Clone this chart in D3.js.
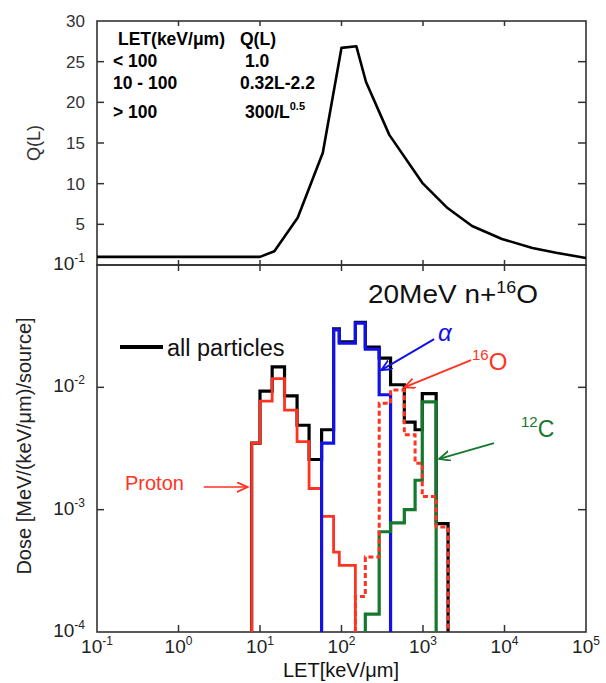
<!DOCTYPE html>
<html>
<head>
<meta charset="utf-8">
<script src="https://cdn.jsdelivr.net/npm/d3@7"></script>
<style>
body { margin: 0; background: #fff; }
text { font-family: "Liberation Sans", Arial, sans-serif; }
</style>
</head>
<body>
<svg id="chart" width="606" height="683"></svg>
<script>
// Q(L) quality factor curve (top panel)
const qLet = [0.1, 10, 15, 29, 59, 100, 152, 200, 386, 980, 2000, 4000, 9300, 22000, 43000, 100000];
const qVal = [1, 1, 1.7, 5.8, 13.8, 26.7, 26.9, 22.5, 16.0, 10.1, 7.0, 4.8, 3.2, 2.1, 1.5, 0.86];
const qTicks = [5, 10, 15, 20, 25, 30];

// dose histograms (bottom panel), bin edges in keV/um
const binEdges = [7.9, 10, 14.1, 20, 28.5, 40, 57, 80, 94, 148, 196, 290, 400, 590, 800, 980, 1450, 2030];
const allParticles = [3.5e-3, 9.3e-3, 1.47e-2, 8.5e-3, 4.9e-3, 2.57e-3, 4.5e-3, 3.0e-2, 2.35e-2, 3.4e-2, 2.13e-2, 1.73e-2, 1.05e-2, 5.2e-3, 4.5e-3, 8.9e-3, 7.7e-4];
const proton = [3.5e-3, 7.7e-3, 1.18e-2, 6.5e-3, 3.6e-3, 1.49e-3, 8.8e-4, 4.5e-4, 3.5e-4];      // from bin 0
const alpha = [3.5e-3, 2.95e-2, 2.3e-2, 3.35e-2, 2.05e-2, 8.7e-3];                              // from bin 6
const oxygen16 = [1.95e-4, 4.1e-4, 7.4e-3, 9.5e-3, 4.1e-3, 2.4e-3, 1.28e-3, 7.2e-4];            // from bin 9
const carbon12 = [1.4e-4, 6.6e-4, 7.8e-4, 1.0e-3, 1.74e-3, 7.6e-3];                             // from bin 10

const letDecades = [0.1, 1, 10, 100, 1e3, 1e4, 1e5];
const letExps = ["-1", "0", "1", "2", "3", "4", "5"];
const doseDecades = [1e-4, 1e-3, 1e-2, 1e-1];
const doseExps = ["-4", "-3", "-2", "-1"];

const red = "#ff3322", blue = "#1212e6", green = "#15782c", axisCol = "#333";

let svg = d3.select("svg#chart");

var x = d3.scaleLog().domain([0.1, 1e5]).range([97, 586]);
var yQ = d3.scaleLinear().domain([0, 30]).range([265, 21]);
var yD = d3.scaleLog().domain([1e-4, 1e-1]).range([632, 265]);

// arrow heads
var defs = svg.append("defs");
[["red", red], ["blue", blue], ["green", green]].forEach(([id, c]) => {
    defs.append("marker")
        .attr("id", "arr-" + id)
        .attr("markerUnits", "userSpaceOnUse")
        .attr("markerWidth", 14).attr("markerHeight", 14)
        .attr("refX", 11).attr("refY", 5)
        .attr("orient", "auto")
        .append("path")
        .attr("d", "M0,0 L11,5 L0,10")
        .attr("fill", "none")
        .attr("stroke", c)
        .attr("stroke-width", 1.8);
});

// ---- frames
function frame(x0, x1, y0, y1) {
    svg.append("rect")
        .attr("x", x0).attr("y", y1)
        .attr("width", x1 - x0).attr("height", y0 - y1)
        .attr("fill", "none")
        .attr("stroke", axisCol)
        .attr("stroke-width", 1.6);
}
frame(x(0.1), x(1e5), yQ(0), yQ(30));
frame(x(0.1), x(1e5), yD(1e-4), yD(1e-1));

// inward ticks on x for both panels
var innerDec = letDecades.slice(1, -1);
[[yQ(30), 5], [yQ(0), -5], [yD(1e-1), 6], [yD(1e-4), -7]].forEach(([yy, len]) => {
    svg.selectAll(null)
        .data(innerDec)
        .enter()
        .append("line")
        .attr("x1", d => x(d)).attr("x2", d => x(d))
        .attr("y1", yy).attr("y2", yy + len)
        .attr("stroke", axisCol).attr("stroke-width", 1.5);
});
// y ticks both panels, left and right
[[x(0.1), 7], [x(1e5), -8]].forEach(([xx, len]) => {
    svg.selectAll(null)
        .data(qTicks.slice(0, -1))
        .enter()
        .append("line")
        .attr("x1", xx).attr("x2", xx + len)
        .attr("y1", d => yQ(d)).attr("y2", d => yQ(d))
        .attr("stroke", axisCol).attr("stroke-width", 1.5);
    svg.selectAll(null)
        .data([1e-3, 1e-2])
        .enter()
        .append("line")
        .attr("x1", xx).attr("x2", xx + len)
        .attr("y1", d => yD(d)).attr("y2", d => yD(d))
        .attr("stroke", axisCol).attr("stroke-width", 1.5);
});

// tick labels
var tickFont = 19, supFont = 12;
svg.selectAll(null)
    .data(qTicks)
    .enter()
    .append("text")
    .attr("x", 85)
    .attr("y", d => yQ(d) + 6)
    .attr("text-anchor", "end")
    .attr("font-size", 17)
    .attr("fill", "#333")
    .text(d => d);

var yl = svg.selectAll(null)
    .data(doseDecades)
    .enter()
    .append("text")
    .attr("x", 85)
    .attr("y", d => yD(d) + 5)
    .attr("text-anchor", "end")
    .attr("font-size", tickFont)
    .attr("fill", "#222");
yl.append("tspan").text("10");
yl.append("tspan").attr("dy", -8).attr("font-size", supFont).text((d, i) => doseExps[i]);

var xl = svg.selectAll(null)
    .data(letDecades)
    .enter()
    .append("text")
    .attr("x", d => x(d))
    .attr("y", 653)
    .attr("text-anchor", "middle")
    .attr("font-size", tickFont)
    .attr("fill", "#222");
xl.append("tspan").text("10");
xl.append("tspan").attr("dy", -8).attr("font-size", supFont).text((d, i) => letExps[i]);

// axis titles
svg.append("text")
    .attr("transform", "translate(40,143) rotate(-90)")
    .attr("text-anchor", "middle")
    .attr("font-size", 18)
    .attr("fill", "#333")
    .text("Q(L)");

svg.append("text")
    .attr("transform", "translate(31,446) rotate(-90)")
    .attr("text-anchor", "middle")
    .attr("font-size", 20)
    .attr("fill", "#222")
    .text("Dose [MeV/(keV/μm)/source]");

svg.append("text")
    .attr("x", 283).attr("y", 677)
    .attr("font-size", 20)
    .attr("fill", "#111")
    .text("LET[keV/μm]");

// ---- top panel: Q(L) curve
var qLine = d3.line()
    .x((d, i) => x(qLet[i]))
    .y(d => yQ(d));
svg.append("path")
    .datum(qVal)
    .attr("d", qLine)
    .attr("fill", "none")
    .attr("stroke", "#000")
    .attr("stroke-width", 2.6)
    .attr("stroke-linejoin", "round");

// table of Q(L) definitions
const tableRows = [["LET(keV/μm)", "Q(L)"], ["< 100", "1.0"], ["10 - 100", "0.32L-2.2"], ["> 100", "300/L"]];
const tableY = [45, 67, 89, 118];
tableRows.forEach((r, i) => {
    svg.append("text")
        .attr("x", i === 0 ? 118 : 113).attr("y", tableY[i])
        .attr("font-size", 17.5).attr("font-weight", "bold")
        .text(r[0]);
    var t = svg.append("text")
        .attr("x", i === 0 || i === 2 ? 240 : 245).attr("y", tableY[i])
        .attr("font-size", 17.5).attr("font-weight", "bold")
        .text(r[1]);
    if (i === 3) t.append("tspan").attr("dy", -8).attr("font-size", 11).text("0.5");
});

// ---- bottom panel: step histograms
function stepPoints(start, vals) {
    let pts = [[binEdges[start], 1e-4]];
    vals.forEach((v, i) => {
        pts.push([binEdges[start + i], v]);
        pts.push([binEdges[start + i + 1], v]);
    });
    pts.push([binEdges[start + vals.length], 1e-4]);
    return pts;
}
var hLine = d3.line()
    .x(d => x(d[0]))
    .y(d => yD(d[1]));

var series = [
    { vals: allParticles, start: 0, color: "#000", w: 3.2, dash: null },
    { vals: proton, start: 0, color: red, w: 2.8, dash: null },
    { vals: alpha, start: 6, color: blue, w: 3.2, dash: null },
    { vals: carbon12, start: 10, color: green, w: 3.2, dash: null },
    { vals: oxygen16, start: 9, color: red, w: 3, dash: "5,3" }
];
svg.selectAll(".hist")
    .data(series)
    .enter()
    .append("path")
    .attr("class", "hist")
    .attr("d", d => hLine(stepPoints(d.start, d.vals)))
    .attr("fill", "none")
    .attr("stroke", d => d.color)
    .attr("stroke-width", d => d.w)
    .attr("stroke-dasharray", d => d.dash)
    .attr("stroke-linejoin", "miter");

// title + legend
var title = svg.append("text")
    .attr("x", 368).attr("y", 303)
    .attr("font-size", 25)
    .attr("textLength", 170)
    .attr("lengthAdjust", "spacingAndGlyphs")
    .attr("fill", "#111");
title.append("tspan").text("20MeV n+");
title.append("tspan").attr("dy", -10).attr("font-size", 16).text("16");
title.append("tspan").attr("dy", 10).text("O");

svg.append("line")
    .attr("x1", 120).attr("x2", 163)
    .attr("y1", 347).attr("y2", 347)
    .attr("stroke", "#000").attr("stroke-width", 4);
svg.append("text")
    .attr("x", 167).attr("y", 356)
    .attr("font-size", 23.5)
    .attr("fill", "#111")
    .text("all particles");

// annotations: arrows in data coordinates [LET, dose]
const arrows = [
    { from: [2.04, 1.53e-3], to: [7.05, 1.53e-3], color: red, id: "red", w: 1.5 },
    { from: [1371, 2.48e-2], to: [307, 1.38e-2], color: blue, id: "blue", w: 2 },
    { from: [3890, 1.67e-2], to: [589, 1.0e-2], color: red, id: "red", w: 2 },
    { from: [7430, 3.5e-3], to: [1578, 2.6e-3], color: green, id: "green", w: 2 }
];
svg.selectAll(".arrow")
    .data(arrows)
    .enter()
    .append("line")
    .attr("class", "arrow")
    .attr("x1", d => x(d.from[0])).attr("y1", d => yD(d.from[1]))
    .attr("x2", d => x(d.to[0])).attr("y2", d => yD(d.to[1]))
    .attr("stroke", d => d.color)
    .attr("stroke-width", d => d.w)
    .attr("marker-end", d => `url(#arr-${d.id})`);

svg.append("text")
    .attr("x", 125).attr("y", 490)
    .attr("font-size", 20)
    .attr("fill", red)
    .text("Proton");

svg.append("text")
    .attr("x", 438).attr("y", 341)
    .attr("font-size", 24)
    .attr("font-style", "italic")
    .attr("fill", blue)
    .text("α");

var o16 = svg.append("text")
    .attr("x", 472).attr("y", 370)
    .attr("font-size", 24)
    .attr("fill", red);
o16.append("tspan").attr("dy", -10).attr("font-size", 15).text("16");
o16.append("tspan").attr("dy", 10).text("O");

var c12 = svg.append("text")
    .attr("x", 521).attr("y", 437)
    .attr("font-size", 23)
    .attr("fill", green);
c12.append("tspan").attr("dy", -10).attr("font-size", 15).text("12");
c12.append("tspan").attr("dy", 10).text("C");
</script>
</body>
</html>
